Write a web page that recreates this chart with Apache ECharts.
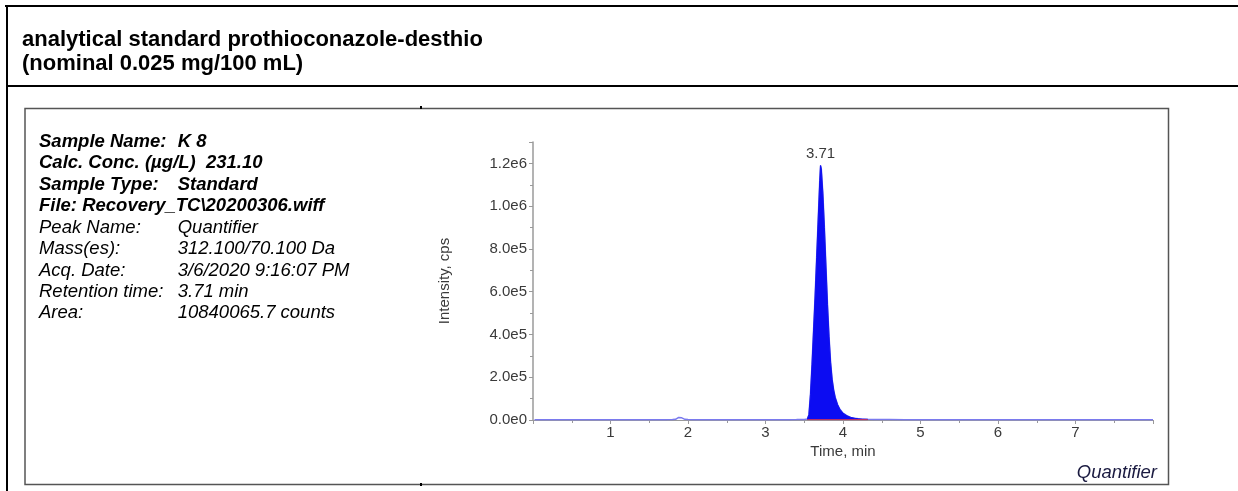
<!DOCTYPE html>
<html>
<head>
<meta charset="utf-8">
<script src="https://cdn.jsdelivr.net/npm/echarts@6/dist/echarts.min.js"></script>
<style>
  html, body { margin: 0; padding: 0; background: #fff; }
  #chart { width: 1238px; height: 491px; }
</style>
</head>
<body>
<div id="chart"></div>
<script>
// Chromatogram trace: retention time (min) and intensity (cps)
const timeMin = [
  0.02, 0.10, 0.20, 0.30, 0.40, 0.50, 0.60, 0.70, 0.80, 0.90,
  1.00, 1.10, 1.20, 1.30, 1.40, 1.50, 1.60, 1.70, 1.80, 1.84,
  1.88, 1.90, 1.92, 1.96, 2.00, 2.10, 2.20, 2.30, 2.40, 2.50,
  2.60, 2.70, 2.80, 2.90, 3.00, 3.10, 3.20, 3.30, 3.40, 3.50,
  3.54, 3.56, 3.58, 3.60, 3.62, 3.64, 3.66, 3.68, 3.70, 3.71,
  3.72, 3.74, 3.76, 3.78, 3.80, 3.82, 3.84, 3.86, 3.88, 3.90,
  3.93, 3.96, 4.00, 4.05, 4.10, 4.15, 4.20, 4.25, 4.32, 4.40,
  4.50, 4.60, 4.80, 5.00, 5.20, 5.40, 5.60, 5.80, 6.00, 6.20,
  6.40, 6.60, 6.80, 7.00, 7.20, 7.40, 7.60, 7.80, 8.00
];
const intensityCps = [
  1500, 1600, 1500, 1700, 1600, 1500, 1400, 900, 1500, 1600,
  1600, 1500, 1700, 1600, 1500, 1600, 1700, 1600, 1800, 3000,
  12000, 19000, 10000, 3000, 1800, 1600, 1500, 1700, 1600, 1500,
  1600, 1700, 1600, 1500, 1000, 1500, 1600, 1700, 1800, 2500,
  5000, 25000, 120000, 260000, 420000, 580000, 760000, 940000, 1120000, 1190000,
  1175000, 1060000, 900000, 720000, 540000, 390000, 270000, 190000, 140000, 105000,
  72000, 50000, 32000, 20000, 12000, 8000, 5500, 4000, 3000, 2200,
  1900, 1800, 1700, 1600, 1700, 1600, 1500, 1600, 1700, 1600,
  1500, 1600, 1700, 1600, 1500, 1600, 1700, 1600, 1500
];

// Integrated peak window and apex
const peakStart = 3.54;
const peakEnd = 4.32;
const peakApex = 3.71;
const baselineLevel = 2000;

// Axis ticks
const xTicks = [1, 2, 3, 4, 5, 6, 7];
const yTicks = [0, 200000, 400000, 600000, 800000, 1000000, 1200000];

// Sample information panel
const infoBold = [
  ['Sample Name:', 'K 8'],
  ['Calc. Conc. (µg/L)  231.10', ''],
  ['Sample Type:', 'Standard'],
  ['File: Recovery_TC\\20200306.wiff', '']
];
const infoPlain = [
  ['Peak Name:', 'Quantifier'],
  ['Mass(es):', '312.100/70.100 Da'],
  ['Acq. Date:', '3/6/2020 9:16:07 PM'],
  ['Retention time:', '3.71 min'],
  ['Area:', '10840065.7 counts']
];
const titleLines = [
  'analytical standard prothioconazole-desthio',
  '(nominal 0.025 mg/100 mL)'
];

const FONT = '"Liberation Sans", Arial, Helvetica, sans-serif';
const axisText = '#3a3a3a';
const axisGray = '#9a9a9a';

const trace = timeMin.map((t, i) => [t, intensityCps[i]]);
const peakData = trace.filter(p => p[0] >= peakStart && p[0] <= peakEnd);
const apexValue = intensityCps[timeMin.indexOf(peakApex)];

function expLabel(v) {
  return v.toExponential(1).replace('e+', 'e');
}

// Page frame and text
const graphics = [];
graphics.push({ type: 'rect', shape: { x: 5, y: 5, width: 1240, height: 2 }, style: { fill: '#000' }, silent: true });
graphics.push({ type: 'rect', shape: { x: 6, y: 5, width: 2, height: 490 }, style: { fill: '#000' }, silent: true });
graphics.push({ type: 'rect', shape: { x: 6, y: 85, width: 1240, height: 2 }, style: { fill: '#000' }, silent: true });
graphics.push({ type: 'rect', shape: { x: 25, y: 108.5, width: 1143.5, height: 376 },
  style: { fill: 'none', stroke: '#555', lineWidth: 1.5 }, silent: true });
graphics.push({ type: 'rect', shape: { x: 420, y: 106, width: 2, height: 3 }, style: { fill: '#000' }, silent: true });
graphics.push({ type: 'rect', shape: { x: 420, y: 483, width: 2, height: 3 }, style: { fill: '#000' }, silent: true });

titleLines.forEach((s, i) => {
  graphics.push({ type: 'text', x: 22, y: 39.5 + 24 * i, silent: true,
    style: { text: s, font: 'bold 22px ' + FONT, fill: '#000', align: 'left', verticalAlign: 'middle' } });
});

const rowY0 = 141.7, rowStep = 21.45, col1 = 39, col2 = 177.7;
infoBold.forEach((r, i) => {
  const y = rowY0 + rowStep * i;
  graphics.push({ type: 'text', x: col1, y: y, silent: true,
    style: { text: r[0], font: 'italic bold 18.5px ' + FONT, fill: '#000', verticalAlign: 'middle' } });
  if (r[1]) graphics.push({ type: 'text', x: col2, y: y, silent: true,
    style: { text: r[1], font: 'italic bold 18.5px ' + FONT, fill: '#000', verticalAlign: 'middle' } });
});
infoPlain.forEach((r, i) => {
  const y = rowY0 + rowStep * (i + infoBold.length);
  graphics.push({ type: 'text', x: col1, y: y, silent: true,
    style: { text: r[0], font: 'italic 18.5px ' + FONT, fill: '#000', verticalAlign: 'middle' } });
  graphics.push({ type: 'text', x: col2, y: y, silent: true,
    style: { text: r[1], font: 'italic 18.5px ' + FONT, fill: '#000', verticalAlign: 'middle' } });
});

graphics.push({ type: 'text', x: 445, y: 281, rotation: Math.PI / 2, silent: true,
  style: { text: 'Intensity, cps', font: '15px ' + FONT, fill: axisText, align: 'center', verticalAlign: 'middle' } });
graphics.push({ type: 'text', x: 843, y: 452, silent: true,
  style: { text: 'Time, min', font: '15px ' + FONT, fill: axisText, align: 'center', verticalAlign: 'middle' } });
graphics.push({ type: 'text', x: 1157, y: 473, silent: true,
  style: { text: 'Quantifier', font: 'italic 18.5px ' + FONT, fill: '#1a1a40', align: 'right', verticalAlign: 'middle' } });

const chart = echarts.init(document.getElementById('chart'), null, { renderer: 'canvas' });
chart.setOption({
  animation: false,
  backgroundColor: '#fff',
  grid: { left: 533, right: 85, top: 142, bottom: 71, containLabel: false },
  xAxis: {
    type: 'value', min: 0, max: 8, interval: 1,
    axisLine: { show: true, lineStyle: { color: axisGray, width: 1 } },
    axisTick: { show: true, length: 4, lineStyle: { color: axisGray } },
    minorTick: { show: true, splitNumber: 2, length: 3, lineStyle: { color: axisGray } },
    splitLine: { show: false },
    axisLabel: {
      margin: 5, color: axisText, fontSize: 15, fontFamily: FONT,
      formatter: v => xTicks.includes(v) ? String(v) : ''
    }
  },
  yAxis: {
    type: 'value', min: 0, max: 1300000, interval: 200000,
    axisLine: { show: true, lineStyle: { color: axisGray, width: 1.5 } },
    axisTick: { show: true, length: 4, lineStyle: { color: axisGray } },
    minorTick: { show: true, splitNumber: 2, length: 3, lineStyle: { color: axisGray } },
    splitLine: { show: false },
    axisLabel: {
      margin: 6, color: axisText, fontSize: 15, fontFamily: FONT,
      showMaxLabel: false,
      formatter: v => yTicks.includes(v) ? expLabel(v) : ''
    }
  },
  series: [
    {
      name: 'trace', type: 'line', data: trace, showSymbol: false, symbol: 'none',
      lineStyle: { color: '#7a7aee', width: 1.5 },
      z: 2
    },
    {
      name: 'peak', type: 'line', data: peakData, showSymbol: false, symbol: 'none',
      lineStyle: { color: '#1010f0', width: 1 },
      itemStyle: { color: '#1010f0' },
      areaStyle: { color: '#0c0cf2', opacity: 1 },
      markPoint: {
        silent: true,
        symbol: 'rect', symbolSize: [1, 1],
        itemStyle: { color: 'rgba(0,0,0,0)' },
        label: {
          show: true, position: 'top', distance: 4,
          color: axisText, fontSize: 15, fontFamily: FONT,
          formatter: () => peakApex.toFixed(2)
        },
        data: [{ coord: [peakApex, apexValue] }]
      },
      z: 3
    },
    {
      name: 'integration baseline', type: 'line',
      data: [[peakStart, baselineLevel], [peakEnd, baselineLevel]],
      showSymbol: false, symbol: 'none',
      lineStyle: { color: '#b8306a', width: 1.2 },
      z: 4
    }
  ],
  graphic: graphics
});
</script>
</body>
</html>
